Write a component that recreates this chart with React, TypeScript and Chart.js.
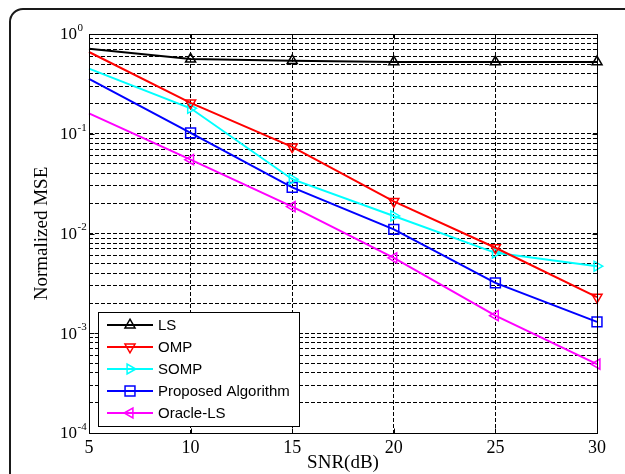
import React, { useEffect, useRef } from 'react';
import { Chart, registerables } from 'chart.js';

Chart.register(...registerables);

const snr = [5, 10, 15, 20, 25, 30];
const lsValues = [0.71, 0.56, 0.54, 0.525, 0.525, 0.525];
const ompValues = [0.66, 0.204, 0.074, 0.021, 0.0072, 0.0023];
const sompValues = [0.45, 0.18, 0.035, 0.015, 0.0064, 0.0047];
const proposedValues = [0.355, 0.102, 0.029, 0.011, 0.0032, 0.0013];
const oracleValues = [0.16, 0.055, 0.0186, 0.0057, 0.0015, 0.00049];
// markers are shown at every SNR point except the first one
const markerShown = [false, true, true, true, true, true];

const seriesNames = ['LS', 'OMP', 'SOMP', 'Proposed Algorithm', 'Oracle-LS'];
const seriesColors = ['#000000', '#ff0000', '#00ffff', '#0000ff', '#ff00ff'];
const seriesValues = [lsValues, ompValues, sompValues, proposedValues, oracleValues];
const markerStyles = ['triangle', 'triangle', 'triangle', 'rect', 'triangle'];
const markerRotations = [0, 180, 90, 0, 270];

const xTickValues = [5, 10, 15, 20, 25, 30];
const yDecades = [-4, -3, -2, -1, 0];
const xTitle = 'SNR(dB)';
const yTitle = 'Normalized MSE';

const SERIF = "'Liberation Serif', 'Times New Roman', serif";
const SANS = "'Liberation Sans', Arial, sans-serif";

function markerRadius(style: string) {
  return style === 'rect' ? 7 : 5.8;
}

function drawMarker(ctx: CanvasRenderingContext2D, style: string, rotation: number, x: number, y: number, r: number) {
  ctx.beginPath();
  if (style === 'rect') {
    const s = r * Math.SQRT1_2;
    ctx.rect(x - s, y - s, 2 * s, 2 * s);
  } else {
    let rad = (rotation * Math.PI) / 180;
    for (let k = 0; k < 3; k++) {
      const px = x + Math.sin(rad) * r;
      const py = y - Math.cos(rad) * r;
      if (k === 0) ctx.moveTo(px, py);
      else ctx.lineTo(px, py);
      rad += (2 * Math.PI) / 3;
    }
    ctx.closePath();
  }
  ctx.stroke();
}

const decorPlugin = {
  id: 'decor',
  beforeDraw(chart: any) {
    const ctx = chart.ctx as CanvasRenderingContext2D;
    ctx.save();
    ctx.fillStyle = '#ffffff';
    ctx.fillRect(0, 0, chart.width, chart.height);
    ctx.strokeStyle = '#1a1a1a';
    ctx.lineWidth = 2;
    ctx.beginPath();
    (ctx as any).roundRect(10, 9, 800, 700, 13);
    ctx.stroke();
    ctx.restore();
  },
  afterDatasetsDraw(chart: any) {
    const ctx = chart.ctx as CanvasRenderingContext2D;
    const a = chart.chartArea;
    const L = Math.round(a.left) + 0.5;
    const T = Math.round(a.top) + 0.5;
    const R = Math.round(a.right) + 0.5;
    const B = Math.round(a.bottom) + 0.5;
    ctx.save();
    // axes box
    ctx.strokeStyle = '#000';
    ctx.lineWidth = 1;
    ctx.strokeRect(L, T, R - L, B - T);

    // inward tick marks
    const xs = chart.scales.x;
    const ys = chart.scales.y;
    ctx.beginPath();
    xTickValues.forEach((v) => {
      const px = Math.round(xs.getPixelForValue(v)) + 0.5;
      ctx.moveTo(px, B);
      ctx.lineTo(px, B - 5);
      ctx.moveTo(px, T);
      ctx.lineTo(px, T + 5);
    });
    yDecades.forEach((d) => {
      const py = Math.round(ys.getPixelForValue(Math.pow(10, d))) + 0.5;
      ctx.moveTo(L, py);
      ctx.lineTo(L + 5, py);
      ctx.moveTo(R, py);
      ctx.lineTo(R - 5, py);
    });
    ctx.stroke();

    // y tick labels 10^n
    ctx.fillStyle = '#000';
    ctx.textBaseline = 'middle';
    ctx.textAlign = 'left';
    yDecades.forEach((d) => {
      const py = ys.getPixelForValue(Math.pow(10, d));
      ctx.font = `17px ${SERIF}`;
      const base = '10';
      const x0 = a.left - 29;
      ctx.fillText(base, x0, py + 1);
      const w = ctx.measureText(base).width;
      ctx.font = `11px ${SERIF}`;
      ctx.fillText(d === 0 ? '0' : '-' + Math.abs(d), x0 + w + 0.5, py - 6);
    });

    // legend
    const bx = a.left + 9;
    const by = a.bottom - 121;
    const bw = 201;
    const bh = 114;
    ctx.fillStyle = '#fff';
    ctx.fillRect(bx, by, bw, bh);
    ctx.strokeStyle = '#000';
    ctx.lineWidth = 1;
    ctx.strokeRect(bx + 0.5, by + 0.5, bw, bh);
    seriesNames.forEach((name, i) => {
      const y = by + 13 + 22 * i;
      ctx.strokeStyle = seriesColors[i];
      ctx.lineWidth = 2;
      ctx.beginPath();
      ctx.moveTo(bx + 9, y);
      ctx.lineTo(bx + 55, y);
      ctx.stroke();
      ctx.lineWidth = 1.5;
      drawMarker(ctx, markerStyles[i], markerRotations[i], bx + 32, y, markerRadius(markerStyles[i]));
      ctx.fillStyle = '#000';
      ctx.font = `15px ${SANS}`;
      ctx.textAlign = 'left';
      ctx.textBaseline = 'middle';
      ctx.fillText(name, bx + 60, y + 1);
    });
    ctx.restore();
  },
};

export default function App() {
  const canvasRef = useRef<HTMLCanvasElement | null>(null);

  useEffect(() => {
    const canvas = canvasRef.current;
    if (!canvas) return;
    const datasets = seriesNames.map((name, i) => ({
      label: name,
      data: snr.map((x, j) => ({ x, y: seriesValues[i][j] })),
      borderColor: seriesColors[i],
      backgroundColor: 'rgba(0,0,0,0)',
      borderWidth: 2,
      pointStyle: markerStyles[i],
      pointRotation: markerRotations[i],
      pointRadius: markerShown.map((s) => (s ? markerRadius(markerStyles[i]) : 0)),
      pointBorderWidth: 1.5,
      pointBorderColor: seriesColors[i],
      pointBackgroundColor: 'rgba(0,0,0,0)',
      tension: 0,
      fill: false,
      clip: false as any,
    }));

    const chart = new Chart(canvas, {
      type: 'line',
      data: { datasets },
      plugins: [decorPlugin],
      options: {
        animation: false,
        responsive: false,
        maintainAspectRatio: false,
        devicePixelRatio: 1,
        layout: { padding: { left: 0, top: 34, right: 28, bottom: 0 } },
        plugins: {
          legend: { display: false },
          tooltip: { enabled: false },
        },
        scales: {
          x: {
            type: 'linear',
            min: 5,
            max: 30,
            afterBuildTicks: (scale: any) => {
              scale.ticks = xTickValues.map((v) => ({ value: v }));
            },
            afterFit: (scale: any) => {
              scale.height = 41;
            },
            ticks: {
              autoSkip: false,
              maxRotation: 0,
              padding: 4,
              color: '#000',
              font: { family: SERIF, size: 18 },
              callback: (v: any) => String(v),
            },
            grid: { color: '#000', lineWidth: 1, drawTicks: false },
            border: { display: false, dash: [4, 2] },
            title: {
              display: true,
              text: xTitle,
              color: '#000',
              font: { family: SERIF, size: 19 },
              padding: { top: 0, bottom: 0 },
            },
          },
          y: {
            type: 'logarithmic',
            min: 1e-4,
            max: 1,
            afterBuildTicks: (scale: any) => {
              const t: any[] = [];
              for (let d = yDecades[0]; d < yDecades[yDecades.length - 1]; d++) {
                for (let m = 1; m < 10; m++) t.push({ value: m * Math.pow(10, d) });
              }
              t.push({ value: Math.pow(10, yDecades[yDecades.length - 1]) });
              scale.ticks = t;
            },
            afterFit: (scale: any) => {
              scale.width = 89;
            },
            ticks: { display: false, autoSkip: false },
            grid: { color: '#000', lineWidth: 1, drawTicks: false },
            border: { display: false, dash: [4, 2] },
            title: {
              display: true,
              text: yTitle,
              color: '#000',
              font: { family: SERIF, size: 19 },
              padding: { top: 31, bottom: 0 },
            },
          },
        },
      } as any,
    });
    return () => chart.destroy();
  }, []);

  return (
    <div style={{ position: 'fixed', left: 0, top: 0, width: 625, height: 474, background: '#fff', overflow: 'hidden' }}>
      <canvas ref={canvasRef} width={625} height={474} style={{ width: 625, height: 474, display: 'block' }} />
    </div>
  );
}
